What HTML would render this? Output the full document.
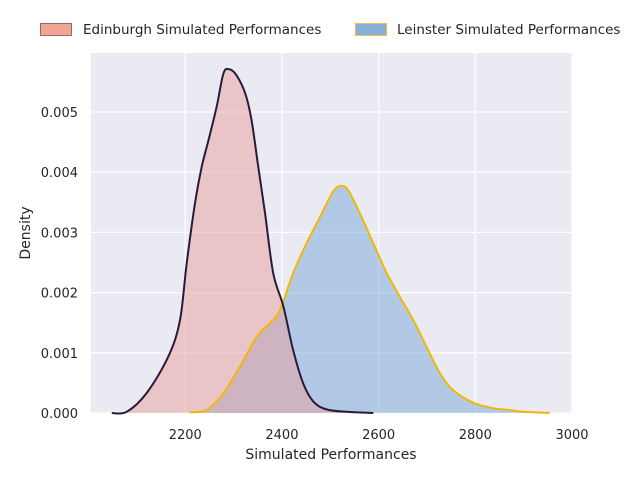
<!DOCTYPE html>
<html><head><meta charset="utf-8"><style>
body{margin:0;background:#fff;}
svg{display:block;font-family:"DejaVu Sans","Liberation Sans",sans-serif;}
</style></head><body>
<svg id="chart" width="640" height="480" viewBox="0 0 640 480">
<rect x="0" y="0" width="640" height="480" fill="#fff"/>
<rect x="91" y="53" width="481" height="360" fill="#eaeaf2"/>
<g id="grid"></g>
<g id="fills"></g>
<g id="lines"></g>
<g id="ticks"></g>
<text x="331" y="459" font-size="14" text-anchor="middle" fill="#262626">Simulated Performances</text>
<text x="0" y="0" font-size="14" text-anchor="middle" fill="#262626" transform="translate(30,233) rotate(-90)">Density</text>
<g>
<g>
<rect x="40.5" y="23.5" width="31" height="12" fill="#f4a592" stroke="#8a6a8a" stroke-width="1"/>
<text x="83" y="34" font-size="13.5" fill="#262626">Edinburgh Simulated Performances</text>
</g>
<g>
<rect x="355.5" y="23.5" width="31" height="12" fill="#86b0d8" stroke="#f2c040" stroke-width="1"/>
<text x="397" y="34" font-size="13.5" fill="#262626">Leinster Simulated Performances</text>
</g>
</g>
</svg>
<script>
const xTicks=[2200,2400,2600,2800,3000];
const yTicks=[0,0.001,0.002,0.003,0.004,0.005];
const yTickLabels=["0.000","0.001","0.002","0.003","0.004","0.005"];
const edinX=[2048,2079,2120,2165,2189,2203,2220,2234,2248,2265,2279,2291,2306,2324,2337,2351,2365,2382,2403,2423,2444,2465,2492,2534,2589];
const edinY=[0,0.00002,0.00033,0.00094,0.00154,0.00249,0.00348,0.00409,0.00453,0.00509,0.00564,0.00571,0.00561,0.00531,0.00487,0.00409,0.00332,0.00232,0.00177,0.00105,0.00049,0.00019,0.00006,0.00002,0];
const leinX=[2210,2244,2279,2313,2348,2375,2396,2423,2451,2479,2506,2522,2537,2561,2589,2617,2644,2672,2699,2727,2754,2796,2837,2872,2899,2954];
const leinY=[0.00001,0.00005,0.00033,0.00077,0.00127,0.00149,0.00171,0.00232,0.00282,0.00326,0.00368,0.00377,0.00370,0.00332,0.00282,0.00232,0.00193,0.00154,0.00110,0.00066,0.00038,0.00017,0.00008,0.00005,0.00002,0];

const X0=91,X1=572,Y0=413,Y1=53,XMIN=2005,XMAX=3000,YMIN=0,YMAX=0.00598;
function sx(v){return X0+(v-XMIN)/(XMAX-XMIN)*(X1-X0);}
function sy(v){return Y0-(v-YMIN)/(YMAX-YMIN)*(Y0-Y1);}
const NS="http://www.w3.org/2000/svg";
function mk(t,a,p){const e=document.createElementNS(NS,t);for(const k in a)e.setAttribute(k,a[k]);p.appendChild(e);return e;}
const grid=document.getElementById('grid'),ticks=document.getElementById('ticks'),fills=document.getElementById('fills'),lines=document.getElementById('lines');
xTicks.forEach(t=>{const x=sx(t);
 const g=mk('line',{x1:x,x2:x,y1:Y1,y2:Y0,stroke:'#fff','stroke-width':1.2},grid);
 
 
 const l=mk('text',{x:x,y:439,'font-size':13,'text-anchor':'middle',fill:'#262626'},ticks);l.textContent=t;
 
 
});
yTicks.forEach((t,i)=>{const y=sy(t);
 const g=mk('line',{x1:X0,x2:X1,y1:y,y2:y,stroke:'#fff','stroke-width':1.2},grid);
 
 
 const l=mk('text',{x:78,y:y+5,'font-size':13,'text-anchor':'end',fill:'#262626'},ticks);l.textContent=yTickLabels[i];
 
 
});
function smooth(xs,ys){const p=xs.map((x,i)=>[sx(x),sy(ys[i])]);let d='M'+p[0][0]+','+p[0][1];
 for(let i=0;i<p.length-1;i++){const a=p[Math.max(i-1,0)],b=p[i],c=p[i+1],e=p[Math.min(i+2,p.length-1)];
  d+=' C'+(b[0]+(c[0]-a[0])/6)+','+(b[1]+(c[1]-a[1])/6)+' '+(c[0]-(e[0]-b[0])/6)+','+(c[1]-(e[1]-b[1])/6)+' '+c[0]+','+c[1];}
 return {d,first:p[0],last:p[p.length-1]};}
function draw(xs,ys,fill,stroke,name){const s=smooth(xs,ys);
 const f=mk('path',{d:s.d+' L'+s.last[0]+','+Y0+' L'+s.first[0]+','+Y0+' Z',fill:fill,'fill-opacity':0.5,stroke:'none'},fills);
 
 
 const l=mk('path',{d:s.d,fill:'none',stroke:stroke,'stroke-width':2},lines);
 
 
}
draw(leinX,leinY,'#7aa8d8','#f2b705','leinster-density');
draw(edinX,edinY,'#e8a09c','#2a1a3a','edinburgh-density');
</script>
</body></html>
